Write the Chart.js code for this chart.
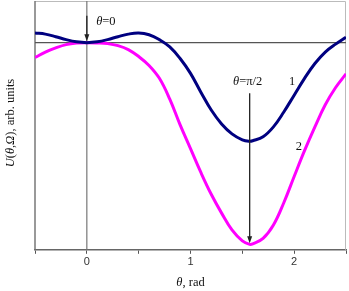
<!DOCTYPE html>
<html>
<head>
<meta charset="utf-8">
<script src="https://cdn.jsdelivr.net/npm/chart.js@4"></script>
<style>
  body { margin: 0; background: #fff; }
</style>
</head>
<body>
<canvas id="chart" width="349" height="291"></canvas>
<script>
// theta, rad
const theta = [-0.5, -0.4, -0.3, -0.2, -0.1, 0, 0.1, 0.2, 0.3, 0.4, 0.5, 0.6, 0.7, 0.8, 0.9, 1.0,
  1.1, 1.2, 1.3, 1.4, 1.5, 1.571, 1.6, 1.7, 1.8, 1.9, 2.0, 2.1, 2.2, 2.3, 2.4, 2.5];
// curve 1 (navy), arb. units
const curve1 = [9.7, 8.6, 6, 3, 0.8, 0, 0.8, 3, 6, 8.6, 9.7, 8, 3, -4.3, -16, -31,
  -50, -68, -82, -92, -98, -99.5, -99, -95, -85, -70, -53, -36, -21, -9.5, -1.5, 5.5];
// curve 2 (magenta), arb. units
const curve2 = [-15, -9.5, -5.3, -2, -0.4, 0, -0.3, -1, -3, -7, -14, -23, -36, -57, -83, -107,
  -131, -153, -172, -189, -200, -203.5, -203, -197.5, -184, -161.5, -135, -109, -85, -62.7, -45.3, -31.5];
const tickLabels = [0, 1, 2];

function richText(ctx, parts, x, y, align, size) {
  // parts: [text, italic]
  const fam = '"Liberation Serif", "Times New Roman", serif';
  const px = (size || 12.5) + 'px ';
  let w = 0;
  parts.forEach(p => { ctx.font = (p[1] ? 'italic ' : '') + px + fam; w += ctx.measureText(p[0]).width; });
  let cx = align === 'center' ? x - w / 2 : x;
  ctx.textAlign = 'left';
  ctx.textBaseline = 'middle';
  parts.forEach(p => {
    ctx.font = (p[1] ? 'italic ' : '') + px + fam;
    ctx.fillText(p[0], cx, y);
    cx += ctx.measureText(p[0]).width;
  });
}

function arrow(ctx, x, y1, y2) {
  ctx.beginPath();
  ctx.moveTo(x, y1);
  ctx.lineTo(x, y2 - 5);
  ctx.stroke();
  ctx.beginPath();
  ctx.moveTo(x, y2);
  ctx.lineTo(x - 2.5, y2 - 7);
  ctx.lineTo(x + 2.5, y2 - 7);
  ctx.closePath();
  ctx.fill();
}

const decor = {
  id: 'decor',
  beforeDatasetsDraw(chart) {
    const { ctx, chartArea: a, scales: { x, y } } = chart;
    ctx.save();
    ctx.lineWidth = 1;
    ctx.strokeStyle = '#bbb';
    ctx.beginPath();
    ctx.moveTo(a.left, a.top + 0.5);
    ctx.lineTo(a.right - 0.5, a.top + 0.5);
    ctx.lineTo(a.right - 0.5, a.bottom);
    ctx.stroke();
    ctx.lineWidth = 1.5;
    ctx.strokeStyle = '#777';
    ctx.beginPath();
    ctx.moveTo(a.left, a.top);
    ctx.lineTo(a.left, a.bottom);
    ctx.stroke();
    ctx.strokeStyle = '#555';
    ctx.lineWidth = 1.2;
    const y0 = y.getPixelForValue(0);
    ctx.beginPath();
    ctx.moveTo(a.left, y0);
    ctx.lineTo(a.right, y0);
    ctx.stroke();
    ctx.strokeStyle = '#777';
    const x0 = x.getPixelForValue(0);
    ctx.beginPath();
    ctx.moveTo(x0, a.top);
    ctx.lineTo(x0, a.bottom);
    ctx.stroke();
    ctx.restore();
  },
  afterDatasetsDraw(chart) {
    const { ctx, scales: { x, y } } = chart;
    ctx.save();
    ctx.strokeStyle = '#222';
    ctx.fillStyle = '#222';
    ctx.lineWidth = 1.3;
    arrow(ctx, x.getPixelForValue(0), y.getPixelForValue(27), y.getPixelForValue(1.5));
    arrow(ctx, x.getPixelForValue(Math.PI / 2), y.getPixelForValue(-51), y.getPixelForValue(-202.5));
    ctx.fillStyle = '#111';
    richText(ctx, [['θ', true], ['=0', false]], x.getPixelForValue(0.09), y.getPixelForValue(21), 'left');
    richText(ctx, [['θ', true], ['=π/2', false]], x.getPixelForValue(Math.PI / 2) - 2, y.getPixelForValue(-39.5), 'center');
    richText(ctx, [['1', false]], x.getPixelForValue(1.98), y.getPixelForValue(-39.5), 'center');
    richText(ctx, [['2', false]], x.getPixelForValue(2.045), y.getPixelForValue(-105.5), 'center');
    // axis titles
    richText(ctx, [['θ', true], [', rad', false]], x.getPixelForValue(1.0), 283, 'center');
    ctx.translate(11, 123);
    ctx.rotate(-Math.PI / 2);
    richText(ctx, [['U', true], ['(', false], ['θ', true], [',', false], ['Ω', true], ['), arb. units', false]], 0, 0, 'center');
    ctx.restore();
  }
};

new Chart(document.getElementById('chart'), {
  type: 'line',
  data: {
    datasets: [
      {
        label: '1',
        data: theta.map((t, i) => ({ x: t, y: curve1[i] })),
        borderColor: '#000080',
        borderWidth: 3,
        pointRadius: 0,
        tension: 0.4
      },
      {
        label: '2',
        data: theta.map((t, i) => ({ x: t, y: curve2[i] })),
        borderColor: '#ff00ff',
        borderWidth: 3,
        pointRadius: 0,
        tension: 0.4
      }
    ]
  },
  options: {
    responsive: false,
    animation: false,
    devicePixelRatio: 1,
    layout: { autoPadding: false, padding: { left: 35, right: 3, top: 1, bottom: 20 } },
    plugins: { legend: { display: false }, tooltip: { enabled: false } },
    scales: {
      x: {
        type: 'linear',
        min: -0.5,
        max: 2.5,
        ticks: {
          stepSize: 0.5,
          autoSkip: false,
          maxRotation: 0,
          padding: 2,
          color: '#333',
          font: { family: '"Liberation Sans", Arial, sans-serif', size: 11 },
          callback: v => tickLabels.includes(v) ? String(v) : ''
        },
        grid: { drawOnChartArea: false, tickLength: 4, color: '#555' },
        border: { color: '#666', width: 1.5 }
      },
      y: {
        display: false,
        min: -209,
        max: 42
      }
    }
  },
  plugins: [decor]
});
</script>
</body>
</html>
